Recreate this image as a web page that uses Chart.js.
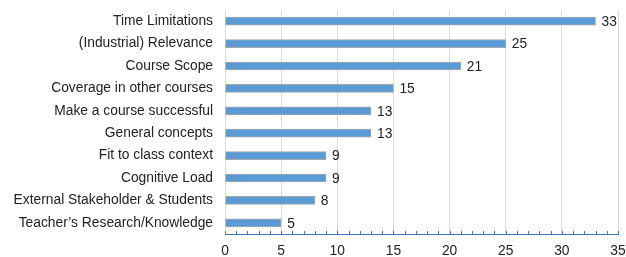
<!DOCTYPE html>
<html>
<head>
<meta charset="utf-8">
<script src="https://cdn.jsdelivr.net/npm/chart.js@4/dist/chart.umd.min.js"></script>
<style>
  html, body { margin: 0; padding: 0; background: #fff; }
  #wrap { width: 626px; height: 257px; position: relative; }
</style>
</head>
<body>
<div id="wrap"><canvas id="c" width="626" height="257"></canvas></div>
<script>
// Category labels, top to bottom as drawn.
const categories = [
  "Time Limitations",
  "(Industrial) Relevance",
  "Course Scope",
  "Coverage in other courses",
  "Make a course successful",
  "General concepts",
  "Fit to class context",
  "Cognitive Load",
  "External Stakeholder & Students",
  "Teacher\u2019s Research/Knowledge",
];
const counts = [33, 25, 21, 15, 13, 13, 9, 9, 8, 5];
const xMin = 0;
const xMax = 35;
const xStep = 5;

const TEXT = "#222222";
const FONT = { family: "'Liberation Sans', Arial, sans-serif", size: 13.8 };

// Value labels just past the end of each bar.
const valueLabels = {
  id: "valueLabels",
  afterDatasetsDraw(chart) {
    const { ctx } = chart;
    const meta = chart.getDatasetMeta(0);
    ctx.save();
    ctx.font = `${FONT.size}px ${FONT.family}`;
    ctx.fillStyle = TEXT;
    ctx.textAlign = "left";
    ctx.textBaseline = "middle";
    meta.data.forEach((bar, i) => {
      ctx.fillText(String(counts[i]), bar.x + 6, bar.y + 1);
    });
    ctx.restore();
  },
};

// Small inward minor tick marks at every unit along the x axis.
const minorTicks = {
  id: "minorTicks",
  afterDraw(chart) {
    const { ctx } = chart;
    const x = chart.scales.x;
    const y = chart.chartArea.bottom;
    ctx.save();
    ctx.strokeStyle = "#4472C4";
    ctx.lineWidth = 1;
    ctx.beginPath();
    for (let v = xMin; v <= xMax; v++) {
      const px = Math.round(x.getPixelForValue(v)) + 0.5;
      ctx.moveTo(px, y);
      ctx.lineTo(px, y - 3);
    }
    ctx.stroke();
    ctx.restore();
  },
};

new Chart(document.getElementById("c"), {
  type: "bar",
  data: {
    labels: categories,
    datasets: [{
      data: counts,
      backgroundColor: "#5B9BD5",
      borderColor: "#A6A6A6",
      borderWidth: 1,
      barThickness: 8,
    }],
  },
  plugins: [valueLabels, minorTicks],
  options: {
    indexAxis: "y",
    responsive: false,
    animation: false,
    layout: { padding: { top: 10, right: 8, bottom: 0, left: 0 } },
    plugins: { legend: { display: false }, tooltip: { enabled: false } },
    scales: {
      x: {
        min: xMin,
        max: xMax,
        ticks: { stepSize: xStep, color: TEXT, font: FONT, padding: 9, maxRotation: 0 },
        grid: { color: "#D9D9D9", drawTicks: false },
        border: { color: "#4472C4", width: 1 },
        afterFit(scale) {
          scale.paddingRight = 0;
          scale.height = 23;
        },
      },
      y: {
        ticks: { color: TEXT, font: FONT, padding: 12 },
        grid: { display: false, drawTicks: false },
        border: { display: false },
        afterFit(scale) {
          scale.width = 225;
          scale.paddingTop = 0;
          scale.paddingBottom = 0;
        },
      },
    },
  },
});
</script>
</body>
</html>
